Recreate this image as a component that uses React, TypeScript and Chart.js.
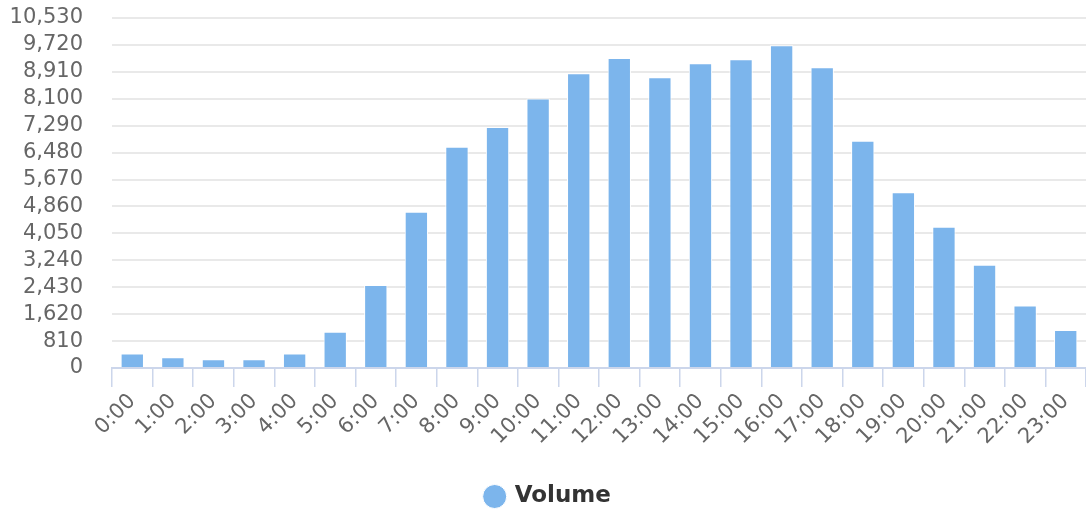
import React, { useEffect, useRef } from "react";
import { Chart, registerables } from "chart.js";

Chart.register(...registerables);

const categories = [
  "0:00", "1:00", "2:00", "3:00", "4:00", "5:00", "6:00", "7:00",
  "8:00", "9:00", "10:00", "11:00", "12:00", "13:00", "14:00", "15:00",
  "16:00", "17:00", "18:00", "19:00", "20:00", "21:00", "22:00", "23:00",
];
const volume = [
  440, 320, 260, 260, 440, 1090, 2500, 4700,
  6660, 7250, 8110, 8870, 9330, 8750, 9170, 9290,
  9710, 9050, 6840, 5290, 4250, 3110, 1880, 1140,
];
const seriesName = "Volume";
const yMin = 0;
const yMax = 10530;
const yStep = 810;

export default function App() {
  const ref = useRef<HTMLCanvasElement | null>(null);

  useEffect(() => {
    document.body.style.margin = "0";
    const canvas = ref.current;
    if (!canvas) return;
    const chart = new Chart(canvas, {
      type: "bar",
      data: {
        labels: categories,
        datasets: [
          {
            label: seriesName,
            data: volume,
            backgroundColor: "#7cb5ec",
            borderColor: "#ffffff",
            borderWidth: 1,
            categoryPercentage: 1,
            barPercentage: 0.575,
          },
        ],
      },
      options: {
        animation: false,
        responsive: true,
        maintainAspectRatio: false,
        events: [],
        layout: { padding: { top: 18, right: 0, bottom: 0, left: 11 } },
        font: { family: "'DejaVu Sans'" },
        plugins: {
          tooltip: { enabled: false },
          legend: {
            position: "bottom",
            labels: {
              usePointStyle: true,
              pointStyle: "circle",
              boxWidth: 17,
              boxHeight: 17,
              padding: 10,
              color: "#333333",
              font: { family: "'DejaVu Sans'", size: 23, weight: "bold" },
            },
          },
        },
        scales: {
          x: {
            offset: true,
            grid: {
              display: true,
              offset: true,
              drawOnChartArea: false,
              drawTicks: true,
              tickLength: 19,
              color: "#ccd6eb",
              lineWidth: 1.5,
            },
            border: { display: true, color: "#ccd6eb", width: 2 },
            ticks: {
              autoSkip: false,
              maxRotation: 45,
              minRotation: 45,
              padding: 2,
              color: "#666666",
              font: { family: "'DejaVu Sans'", size: 21 },
            },
            afterFit: (scale: any) => {
              scale.height = 107;
            },
          },
          y: {
            min: yMin,
            max: yMax,
            grid: {
              color: "#e9e9e9",
              lineWidth: 2,
              drawTicks: false,
            },
            border: { display: false },
            ticks: {
              autoSkip: false,
              stepSize: yStep,
              padding: 29,
              color: "#666666",
              font: { family: "'DejaVu Sans'", size: 21 },
              callback: (v: any) => Number(v).toLocaleString("en-US"),
            },
            afterFit: (scale: any) => {
              scale.width = 101;
              scale.paddingTop = 10;
              scale.paddingBottom = 10;
            },
          },
        },
      },
    });
    return () => chart.destroy();
  }, []);

  return (
    <div style={{ position: "fixed", left: 0, top: 0, width: 1086, height: 518 }}>
      <canvas ref={ref} />
    </div>
  );
}
